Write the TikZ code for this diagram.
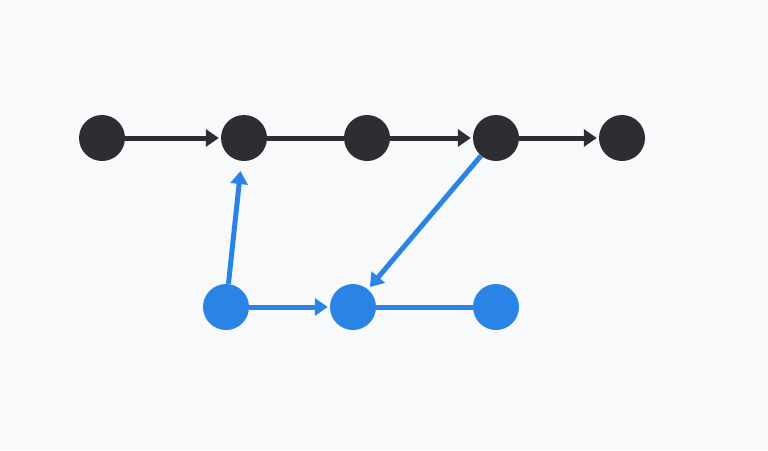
\documentclass[tikz,border=0pt]{standalone}
\usetikzlibrary{arrows.meta}
\definecolor{bg}{HTML}{F8F9FB}
\definecolor{ink}{HTML}{2D2E31}
\definecolor{blu}{HTML}{2A84E6}
\begin{document}
\begin{tikzpicture}[x=1pt,y=-1pt,
  dot/.style={circle,minimum size=46pt,inner sep=0pt,fill=#1},
  con/.style={line width=5pt,draw=#1},
  arr/.style={con=#1,-{Triangle[length=13pt,width=17pt]}}]
\fill[bg] (0,0) rectangle (768,450);
\useasboundingbox (0,0) rectangle (768,450);
\node[dot=ink] (a) at (102,138) {};
\node[dot=ink] (b) at (244,138) {};
\node[dot=ink] (c) at (367,138) {};
\node[dot=ink] (d) at (496,138) {};
\node[dot=ink] (e) at (622,138) {};
\node[dot=blu] (p) at (226,307) {};
\node[dot=blu] (q) at (353,307) {};
\node[dot=blu] (r) at (496,307) {};
\draw[arr=ink,shorten >=2pt] (a) -- (b);
\draw[con=ink] (b) -- (c);
\draw[arr=ink,shorten >=2pt] (c) -- (d);
\draw[arr=ink,shorten >=2pt] (d) -- (e);
\draw[arr=blu,shorten >=10pt] (p) -- (b);
\draw[arr=blu,shorten >=2pt] (p) -- (q);
\draw[arr=blu,shorten >=3pt] (d) -- (q);
\draw[con=blu] (q) -- (r);
\end{tikzpicture}
\end{document}
